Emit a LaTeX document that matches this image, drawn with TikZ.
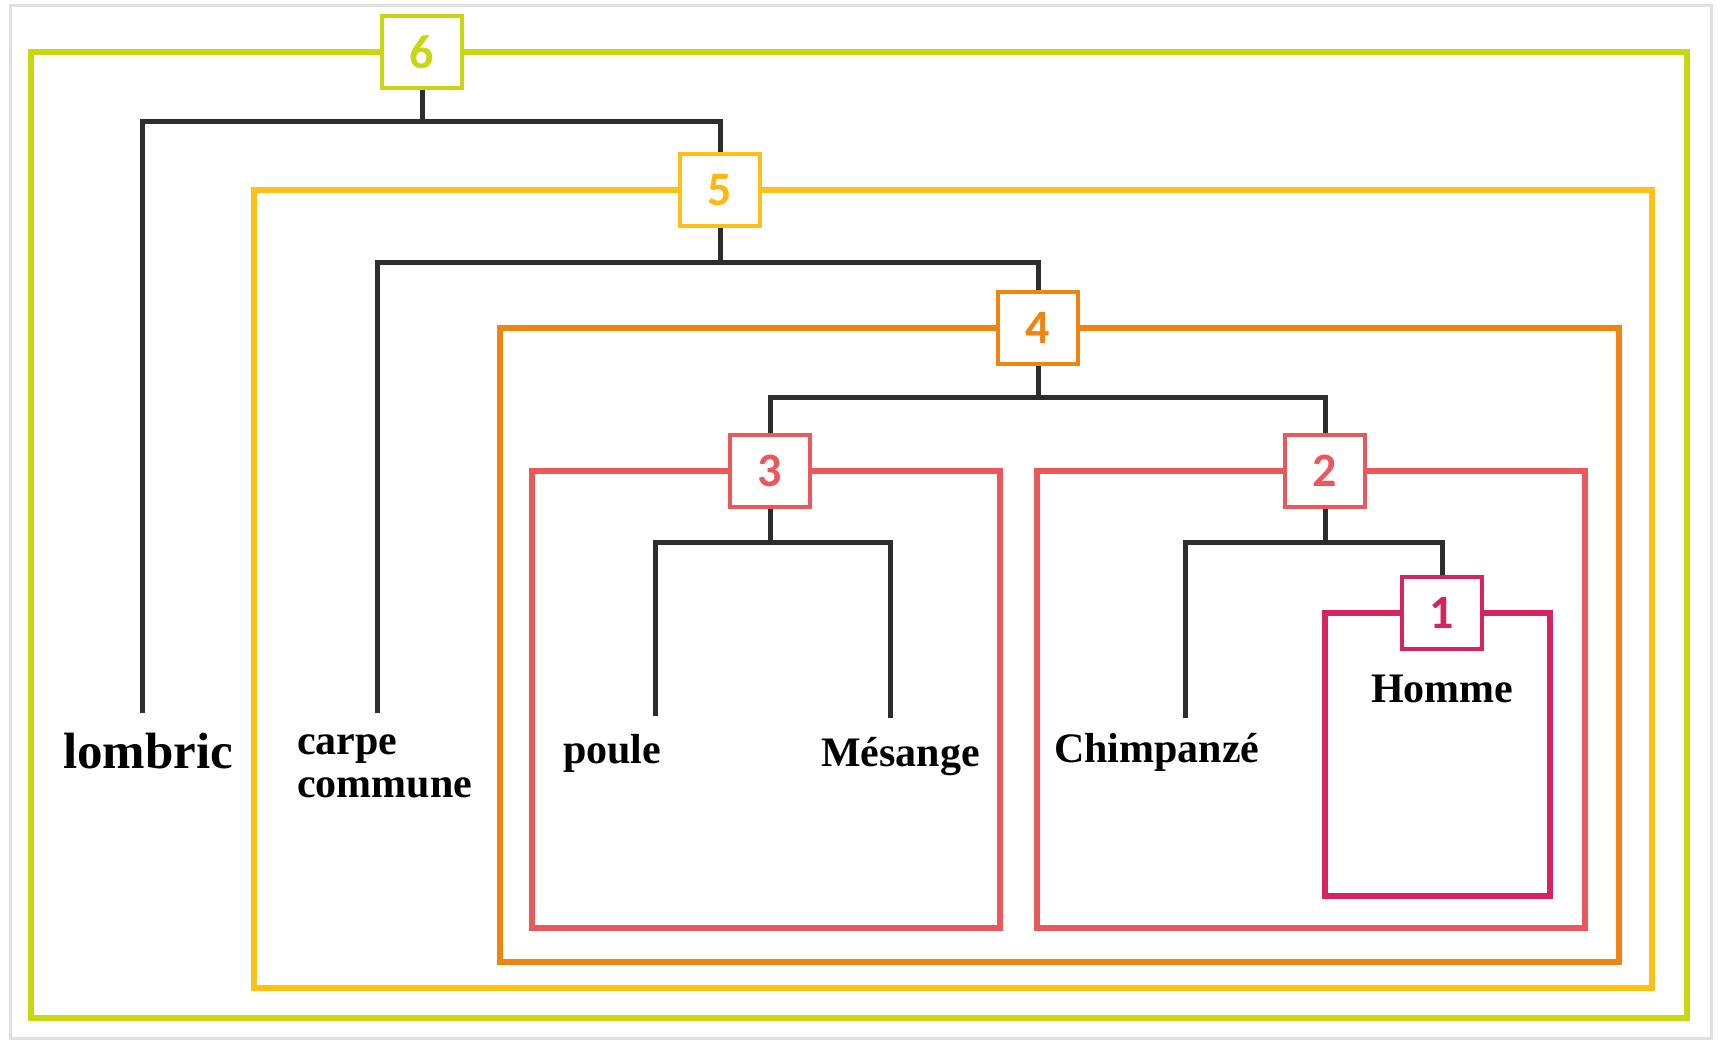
\documentclass[tikz,border=0pt]{standalone}
\usepackage{fontspec}
\setmainfont{Liberation Serif}
\newfontfamily\numfont{Carlito}
\definecolor{cgreen}{RGB}{201,214,18}
\definecolor{cyellow}{RGB}{253,192,22}
\definecolor{corange}{RGB}{240,132,18}
\definecolor{cred}{RGB}{235,88,92}
\definecolor{cpink}{RGB}{214,36,96}
\definecolor{cline}{RGB}{45,45,45}
\begin{document}
\begin{tikzpicture}[x=1pt,y=-1pt,
  frame/.style={line width=6pt},
  numbox/.style={draw, fill=white, line width=4pt, minimum width=80pt, minimum height=72pt, inner sep=0pt,
    font=\numfont\bfseries\fontsize{48}{48}\selectfont},
  branch/.style={draw=cline, line width=5pt},
  leaf/.style={inner sep=0pt, font=\bfseries\fontsize{42}{44}\selectfont}]
\useasboundingbox (0,0) rectangle (1723,1043);
\fill[white] (0,0) rectangle (1723,1043);
\draw[black!12, line width=3pt] (10,6) rectangle (1711,1038);
% clade frames
\draw[frame, cgreen]  (31,52)   rectangle (1687,1018);
\draw[frame, cyellow] (254,190) rectangle (1652,988);
\draw[frame, corange] (500,328) rectangle (1619,962);
\draw[frame, cred]    (532,471) rectangle (1000,928);
\draw[frame, cred]    (1037,471) rectangle (1585,928);
\draw[frame, cpink]   (1325,613) rectangle (1550,896);
% numbered boxes
\node[numbox, draw=cgreen,  text=cgreen]  (b6) at (422,52)  {6};
\node[numbox, draw=cyellow, text=cyellow!85!orange] (b5) at (720,190) {5};
\node[numbox, draw=corange, text=corange] (b4) at (1038,328) {4};
\node[numbox, draw=cred,    text=cred]    (b3) at (770,471) {3};
\node[numbox, draw=cred,    text=cred]    (b2) at (1325,471) {2};
\node[numbox, draw=cpink,   text=cpink]   (b1) at (1442,613) {1};
% junctions and leaf ends
\coordinate (j6) at (422,122);
\coordinate (j5) at (720,262);
\coordinate (j4) at (1038,397);
\coordinate (j3) at (770,542);
\coordinate (j2) at (1325,542);
\coordinate (e1) at (142,713);
\coordinate (e2) at (377,713);
\coordinate (e3) at (655,716);
\coordinate (e4) at (890,718);
\coordinate (e5) at (1185,718);
% branches
\draw[branch] (b6.south) -- (j6);
\draw[branch] (e1) |- (j6) -| (b5.north);
\draw[branch] (b5.south) -- (j5);
\draw[branch] (e2) |- (j5) -| (b4.north);
\draw[branch] (b4.south) -- (j4);
\draw[branch] (b3.north) |- (j4) -| (b2.north);
\draw[branch] (b3.south) -- (j3);
\draw[branch] (e3) |- (j3) -| (e4);
\draw[branch] (b2.south) -- (j2);
\draw[branch] (e5) |- (j2) -| (b1.north);
% labels
\node[leaf, anchor=base west, font=\bfseries\fontsize{51}{51}\selectfont] (lombric) at (63,768) {lombric};
\node[leaf, anchor=base west] (carpe) at (297,754) {carpe};
\node[leaf, anchor=base west] (commune) at (297,797) {commune};
\node[leaf, anchor=base west] (poule) at (563,763) {poule};
\node[leaf, anchor=base west] (mesange) at (821,766) {Mésange};
\node[leaf, anchor=base west] (chimp) at (1054,762) {Chimpanzé};
\node[leaf, anchor=base west] (homme) at (1371,702) {Homme};
\end{tikzpicture}
\end{document}
